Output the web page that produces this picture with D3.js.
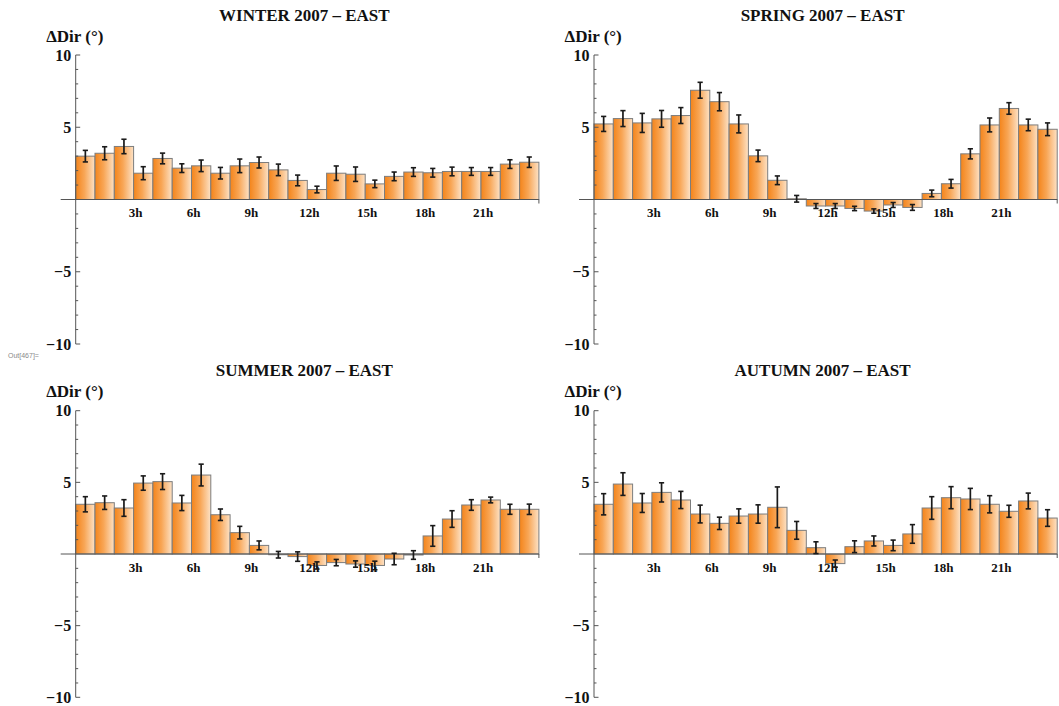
<!DOCTYPE html>
<html>
<head>
<meta charset="utf-8">
<script src="https://cdn.jsdelivr.net/npm/d3@7/dist/d3.min.js"></script>
<style>
  html, body { margin: 0; padding: 0; background: #ffffff; }
  svg { display: block; }
  .serif { font-family: "Liberation Serif", "Times New Roman", serif; font-weight: bold; fill: #111; }
</style>
</head>
<body>
<svg id="chart" width="1059" height="706"></svg>
<script>
// Mean hourly change in wind direction (degrees) with error bars, one panel per season
const hours = d3.range(24);
const hourTicks = [3, 6, 9, 12, 15, 18, 21];
const hourTickLabels = ["3h", "6h", "9h", "12h", "15h", "18h", "21h"];
const yMajorTicks = [-10, -5, 5, 10];
const yMajorLabels = ["\u221210", "\u22125", "5", "10"];
const yMinorTicks = d3.range(-10, 11, 1);

const seasonTitles = ["WINTER 2007 \u2013 EAST", "SPRING 2007 \u2013 EAST", "SUMMER 2007 \u2013 EAST", "AUTUMN 2007 \u2013 EAST"];

const winterValues = [3.0, 3.2, 3.67, 1.82, 2.84, 2.17, 2.33, 1.82, 2.33, 2.56, 2.05, 1.32, 0.69, 1.82, 1.75, 1.08, 1.6, 1.9, 1.85, 1.94, 1.94, 1.94, 2.45, 2.58];
const winterErrors = [0.4, 0.45, 0.5, 0.45, 0.37, 0.3, 0.4, 0.4, 0.47, 0.38, 0.4, 0.37, 0.23, 0.5, 0.5, 0.26, 0.3, 0.3, 0.3, 0.3, 0.27, 0.27, 0.3, 0.36];

const springValues = [5.23, 5.6, 5.3, 5.58, 5.81, 7.56, 6.77, 5.23, 3.02, 1.33, 0.05, -0.45, -0.45, -0.62, -0.8, -0.38, -0.55, 0.42, 1.09, 3.16, 5.16, 6.3, 5.16, 4.86];
const springErrors = [0.52, 0.55, 0.66, 0.58, 0.55, 0.55, 0.63, 0.62, 0.4, 0.3, 0.23, 0.17, 0.17, 0.15, 0.15, 0.17, 0.2, 0.23, 0.3, 0.35, 0.48, 0.4, 0.4, 0.44];

const summerValues = [3.47, 3.58, 3.21, 4.95, 5.05, 3.56, 5.51, 2.74, 1.49, 0.6, -0.05, -0.18, -0.8, -0.6, -0.7, -0.8, -0.35, -0.07, 1.26, 2.44, 3.42, 3.77, 3.12, 3.12];
const summerErrors = [0.53, 0.47, 0.58, 0.5, 0.55, 0.53, 0.76, 0.4, 0.44, 0.31, 0.23, 0.33, 0.25, 0.22, 0.22, 0.3, 0.4, 0.3, 0.72, 0.58, 0.37, 0.2, 0.35, 0.36];

const autumnValues = [3.47, 4.88, 3.56, 4.3, 3.77, 2.79, 2.14, 2.65, 2.79, 3.26, 1.65, 0.44, -0.67, 0.51, 0.91, 0.6, 1.4, 3.21, 3.93, 3.84, 3.47, 2.98, 3.7, 2.51];
const autumnErrors = [0.74, 0.79, 0.66, 0.67, 0.6, 0.62, 0.43, 0.5, 0.64, 1.42, 0.62, 0.41, 0.25, 0.41, 0.35, 0.37, 0.65, 0.79, 0.77, 0.74, 0.6, 0.42, 0.55, 0.58];

const seasonValues = [winterValues, springValues, summerValues, autumnValues];
const seasonErrors = [winterErrors, springErrors, summerErrors, autumnErrors];

// Grid layout: two columns, two rows
const colAxisX = [75.7, 594];
const barWidth = 19.3;
const rowZeroY = [199.5, 554];
const unitPx = [14.45, 14.33];

const svg = d3.select("#chart");

const defs = svg.append("defs");
const grad = defs.append("linearGradient")
  .attr("id", "barFill").attr("x1", "0").attr("x2", "1").attr("y1", "0").attr("y2", "0");
grad.append("stop").attr("offset", "0%").attr("stop-color", "#f4841a");
grad.append("stop").attr("offset", "45%").attr("stop-color", "#f8a656");
grad.append("stop").attr("offset", "100%").attr("stop-color", "#fde2c6");

svg.append("text")
  .attr("x", 8).attr("y", 358)
  .attr("font-family", "Liberation Sans, Arial, sans-serif")
  .attr("font-size", 7).attr("fill", "#8a8a8a")
  .text("Out[467]=");

seasonTitles.forEach((title, k) => {
  const col = k % 2, row = Math.floor(k / 2);
  const ax = colAxisX[col];
  const z = rowZeroY[row];
  const u = unitPx[row];

  const x = d3.scaleLinear().domain([0, 24]).range([ax, ax + 24 * barWidth]);
  const y = d3.scaleLinear().domain([-10, 10]).range([z + 10 * u, z - 10 * u]);

  const g = svg.append("g");
  const vals = seasonValues[k];
  const errs = seasonErrors[k];

  // Bars
  g.selectAll("rect.bar").data(hours).join("rect")
    .attr("class", "bar")
    .attr("x", i => x(i))
    .attr("width", i => x(i + 1) - x(i))
    .attr("y", i => Math.min(y(vals[i]), y(0)))
    .attr("height", i => Math.abs(y(vals[i]) - y(0)))
    .attr("fill", "url(#barFill)")
    .attr("stroke", "#7d7d7d")
    .attr("stroke-width", 1);

  // Axes
  const axisColor = "#555";
  g.append("line")
    .attr("x1", ax - 15).attr("x2", x(24)).attr("y1", y(0)).attr("y2", y(0))
    .attr("stroke", axisColor).attr("stroke-width", 1);
  g.append("line")
    .attr("x1", x(24)).attr("x2", x(24)).attr("y1", y(0)).attr("y2", y(0) + 4)
    .attr("stroke", axisColor).attr("stroke-width", 1);
  g.append("line")
    .attr("x1", ax).attr("x2", ax).attr("y1", y(10)).attr("y2", y(-10))
    .attr("stroke", axisColor).attr("stroke-width", 1);

  g.selectAll("line.minor").data(yMinorTicks.filter(v => v % 5 !== 0)).join("line")
    .attr("class", "minor")
    .attr("x1", ax).attr("x2", ax + 2.5)
    .attr("y1", v => y(v)).attr("y2", v => y(v))
    .attr("stroke", axisColor).attr("stroke-width", 1);
  g.selectAll("line.major").data(yMajorTicks).join("line")
    .attr("class", "major")
    .attr("x1", ax).attr("x2", ax + 4.5)
    .attr("y1", v => y(v)).attr("y2", v => y(v))
    .attr("stroke", axisColor).attr("stroke-width", 1);

  g.selectAll("text.ylab").data(yMajorTicks).join("text")
    .attr("class", "ylab serif")
    .attr("x", ax - 4.5)
    .attr("y", v => y(v) + 5.5)
    .attr("text-anchor", "end")
    .attr("font-size", 16)
    .text((v, i) => yMajorLabels[i]);

  g.selectAll("text.xlab").data(hourTicks).join("text")
    .attr("class", "xlab serif")
    .attr("x", h => x(h) + 2)
    .attr("y", y(0) + 17.5)
    .attr("text-anchor", "middle")
    .attr("font-size", 13)
    .text((h, i) => hourTickLabels[i]);

  // Error bars
  const eb = g.selectAll("g.err").data(hours).join("g").attr("class", "err");
  const cx = i => x(i + 0.5);
  eb.append("line")
    .attr("x1", cx).attr("x2", cx)
    .attr("y1", i => y(vals[i] + errs[i])).attr("y2", i => y(vals[i] - errs[i]))
    .attr("stroke", "#1a1a1a").attr("stroke-width", 1.7);
  eb.append("line")
    .attr("x1", i => cx(i) - 2.6).attr("x2", i => cx(i) + 2.6)
    .attr("y1", i => y(vals[i] + errs[i])).attr("y2", i => y(vals[i] + errs[i]))
    .attr("stroke", "#1a1a1a").attr("stroke-width", 1.6);
  eb.append("line")
    .attr("x1", i => cx(i) - 2.6).attr("x2", i => cx(i) + 2.6)
    .attr("y1", i => y(vals[i] - errs[i])).attr("y2", i => y(vals[i] - errs[i]))
    .attr("stroke", "#1a1a1a").attr("stroke-width", 1.6);

  // Titles
  svg.append("text")
    .attr("class", "serif")
    .attr("x", (x(0) + x(24)) / 2 - 3)
    .attr("y", y(10) - 34.5)
    .attr("text-anchor", "middle")
    .attr("font-size", 17)
    .text(title);

  svg.append("text")
    .attr("class", "serif")
    .attr("x", ax - 29.5)
    .attr("y", y(10) - 13.5)
    .attr("font-size", 17)
    .text("\u0394Dir (\u00B0)");
});
</script>
</body>
</html>
